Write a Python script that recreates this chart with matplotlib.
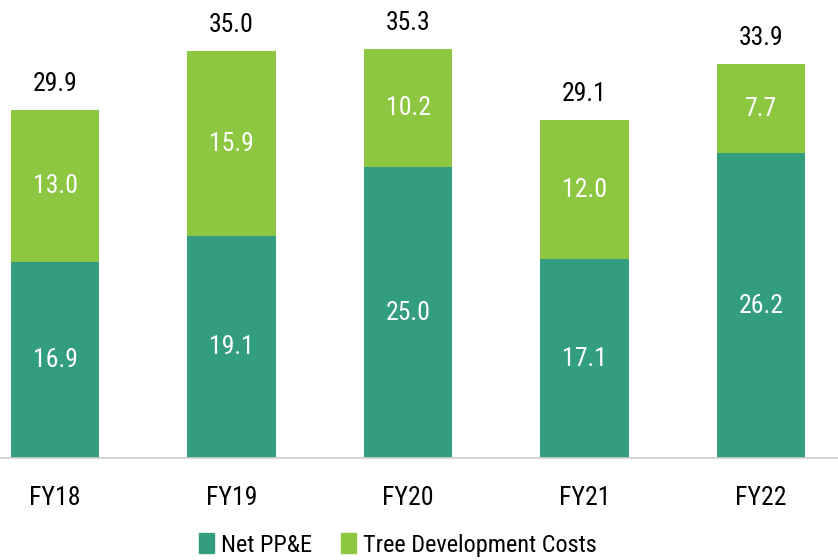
import numpy as np
import matplotlib
matplotlib.use("Agg")
import matplotlib.pyplot as plt
from matplotlib.patches import Patch

plt.rcParams['font.family'] = ['Roboto Condensed', 'DejaVu Sans']

years = ["FY18", "FY19", "FY20", "FY21", "FY22"]
net_ppe = [16.9, 19.1, 25.0, 17.1, 26.2]
tree_dev = [13.0, 15.9, 10.2, 12.0, 7.7]
totals = [29.9, 35.0, 35.3, 29.1, 33.9]

c_ppe = "#329e7f"
c_tree = "#8dc641"
fs = 18.5

fig = plt.figure(figsize=(8.38, 5.6), dpi=100)
ax = fig.add_axes([0, 0.182, 1, 0.818])

x = np.arange(len(years))
w = 0.5
ax.bar(x, net_ppe, w, color=c_ppe)
ax.bar(x, tree_dev, w, bottom=net_ppe, color=c_tree)

for i in range(len(years)):
    ax.text(x[i], net_ppe[i] / 2, f"{net_ppe[i]:.1f}", ha="center", va="center",
            color="white", fontsize=fs)
    ax.text(x[i], net_ppe[i] + tree_dev[i] / 2, f"{tree_dev[i]:.1f}", ha="center",
            va="center", color="white", fontsize=fs)
    ax.text(x[i], net_ppe[i] + tree_dev[i] + 1.2, f"{totals[i]:.1f}", ha="center",
            va="bottom", color="black", fontsize=fs)

ax.set_xlim(-0.312, 4.436)
ax.set_ylim(0, 39.4)
ax.set_yticks([])
ax.set_xticks(x)
ax.set_xticklabels(years, fontsize=fs)
ax.tick_params(axis="x", length=0, pad=20)
for s in ["top", "left", "right"]:
    ax.spines[s].set_visible(False)
ax.spines["bottom"].set_color("#d0d0d0")
ax.spines["bottom"].set_linewidth(1.2)

handles = [Patch(color=c_ppe, label="Net PP&E"), Patch(color=c_tree, label="Tree Development Costs")]
fig.legend(handles=handles, loc="center", bbox_to_anchor=(0.475, 0.027), ncol=2,
           frameon=False, fontsize=17.5, handlelength=0.6, handleheight=0.9,
           handletextpad=0.3, columnspacing=1.2)

fig.savefig("out.png", dpi=100)
